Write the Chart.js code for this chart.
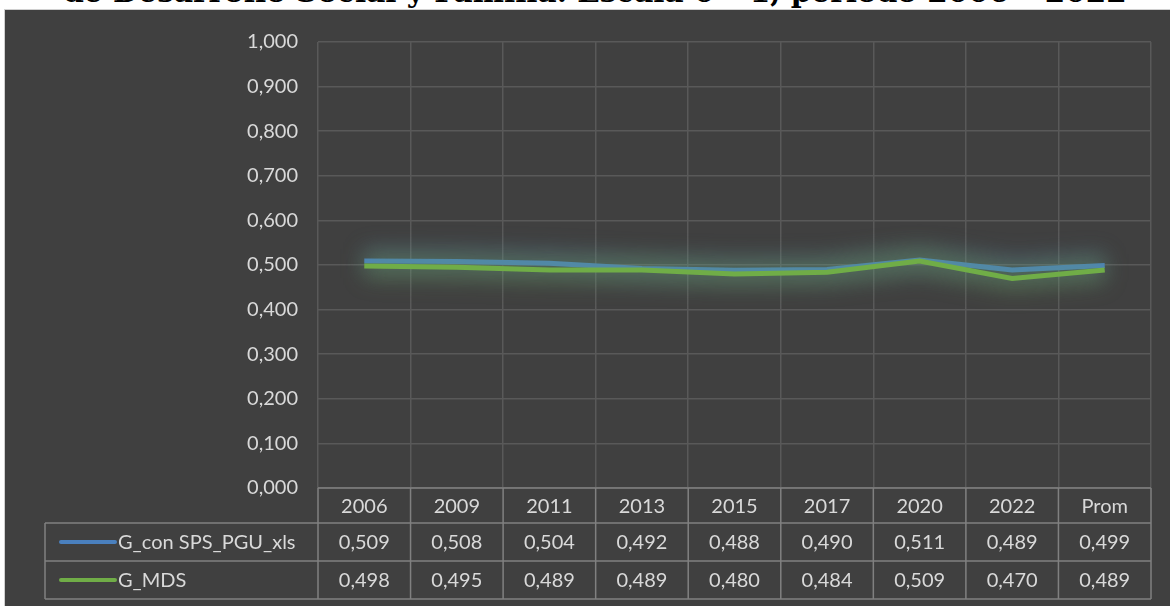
<!DOCTYPE html>
<html>
<head>
<meta charset="utf-8">
<style>
  html, body { margin: 0; padding: 0; background: #ffffff; width: 1170px; height: 606px; overflow: hidden; }
  #title {
    position: absolute; left: 0; top: -23px; width: 1190px; text-align: center;
    font-family: "DejaVu Serif", serif; font-weight: bold; font-size: 29.5px; line-height: 29px;
    color: #000000; white-space: nowrap;
  }
  #panel {
    position: absolute; left: 4px; top: 9px; width: 1166px; height: 597px;
    background: #404040; border-top: 1px solid #d0d0d0; border-left: 1px solid #d0d0d0;
  }
  #wrap { position: relative; width: 1165px; height: 596px; }
</style>
</head>
<body>
<div id="title">de Desarrollo Social y Familia. Escala 0 – 1, período 2006 – 2022</div>
<div id="panel"><div id="wrap"><canvas id="chart"></canvas></div></div>

<script src="https://cdn.jsdelivr.net/npm/chart.js@4.4.1/dist/chart.umd.min.js"></script>
<script>
  // categories and series
  const years = ['2006', '2009', '2011', '2013', '2015', '2017', '2020', '2022', 'Prom'];
  const seriesNames = ['G_con SPS_PGU_xls', 'G_MDS'];
  const gConSps = [0.509, 0.508, 0.504, 0.492, 0.488, 0.490, 0.511, 0.489, 0.499];
  const gMds = [0.498, 0.495, 0.489, 0.489, 0.480, 0.484, 0.509, 0.470, 0.489];

  const blue = '#4a80be';
  const green = '#70ad47';
  const textColor = '#d9d9d9';
  const gridColor = '#595959';
  const tableLine = '#808080';
  const font = 'Lato, "Open Sans", sans-serif';
  const fontSize = 20;

  const fmt = v => v.toFixed(3).replace('.', ',');

  // soft glow: a wide blurred copy of each line drawn underneath it
  const glow = {
    id: 'glow',
    beforeDatasetDraw(chart, args) {
      const { ctx, chartArea } = chart;
      const line = args.meta.dataset;
      const ds = chart.data.datasets[args.index];
      const oldW = line.options.borderWidth, oldC = line.options.borderColor;
      ctx.save();
      ctx.filter = 'blur(11px)';
      ctx.globalAlpha = 0.3;
      line.options.borderWidth = 24;
      line.options.borderColor = ds.glowColor;
      line.draw(ctx, chartArea);
      line.options.borderWidth = oldW;
      line.options.borderColor = oldC;
      ctx.restore();
    }
  };

  // data table under the plot, columns follow the x scale
  const dataTable = {
    id: 'dataTable',
    afterDraw(chart) {
      const { ctx, chartArea, scales: { x } } = chart;
      const n = years.length;
      const edges = [chartArea.left];
      for (let i = 1; i < n; i++) {
        edges.push((x.getPixelForValue(i - 1) + x.getPixelForValue(i)) / 2);
      }
      edges.push(chartArea.right);

      const top = chartArea.bottom;
      const headH = 35, rowH = 38;
      const legendLeft = 40;
      const rows = [top, top + headH, top + headH + rowH, top + headH + 2 * rowH];

      ctx.save();
      ctx.strokeStyle = tableLine;
      ctx.lineWidth = 1.5;
      ctx.beginPath();
      // horizontal lines
      ctx.moveTo(edges[0], rows[0]); ctx.lineTo(edges[n], rows[0]);
      for (let r = 1; r < rows.length; r++) {
        ctx.moveTo(legendLeft, rows[r]); ctx.lineTo(edges[n], rows[r]);
      }
      // vertical lines
      for (let i = 0; i <= n; i++) {
        ctx.moveTo(edges[i], rows[0]); ctx.lineTo(edges[i], rows[3]);
      }
      ctx.moveTo(legendLeft, rows[1]); ctx.lineTo(legendLeft, rows[3]);
      ctx.stroke();

      ctx.fillStyle = textColor;
      ctx.font = fontSize + 'px ' + font;
      ctx.textAlign = 'center';
      ctx.textBaseline = 'middle';
      const series = [gConSps, gMds];
      for (let i = 0; i < n; i++) {
        const cx = (edges[i] + edges[i + 1]) / 2;
        ctx.fillText(years[i], cx, rows[0] + headH / 2 + 1);
        series.forEach((s, r) => ctx.fillText(fmt(s[i]), cx, rows[r + 1] + rowH / 2 + 1));
      }

      // legend keys
      const keyColors = [blue, green];
      ctx.textAlign = 'left';
      seriesNames.forEach((name, r) => {
        const cy = rows[r + 1] + rowH / 2;
        ctx.strokeStyle = keyColors[r];
        ctx.lineWidth = 4;
        ctx.lineCap = 'round';
        ctx.beginPath();
        ctx.moveTo(56, cy); ctx.lineTo(110, cy);
        ctx.stroke();
        ctx.fillStyle = textColor;
        ctx.fillText(name, 113, cy + 1);
      });
      ctx.restore();
    }
  };

  new Chart(document.getElementById('chart'), {
    type: 'line',
    plugins: [glow, dataTable],
    data: {
      labels: years,
      datasets: [
        {
          label: seriesNames[0],
          data: gConSps,
          borderColor: blue,
          glowColor: '#5a8cc8',
          borderWidth: 5,
          pointRadius: 0,
          tension: 0,
          order: 1
        },
        {
          label: seriesNames[1],
          data: gMds,
          borderColor: green,
          glowColor: '#70ad47',
          borderWidth: 5,
          pointRadius: 0,
          tension: 0,
          order: 0
        }
      ]
    },
    options: {
      responsive: true,
      maintainAspectRatio: false,
      animation: false,
      layout: { padding: { left: 0, right: 19, top: 28, bottom: 118 } },
      plugins: {
        legend: { display: false },
        tooltip: { enabled: false }
      },
      scales: {
        x: {
          offset: true,
          ticks: { display: false },
          border: { display: false },
          grid: { offset: true, color: gridColor, lineWidth: 1.5, drawTicks: false },
          afterFit: s => { s.height = 0; }
        },
        y: {
          min: 0,
          max: 1,
          border: { display: false },
          grid: { color: gridColor, lineWidth: 1.5, drawTicks: false },
          ticks: {
            stepSize: 0.1,
            padding: 20,
            color: textColor,
            font: { family: font, size: fontSize },
            callback: v => fmt(v)
          },
          afterFit: s => { s.width = 313; }
        }
      }
    }
  });
</script>
</body>
</html>
